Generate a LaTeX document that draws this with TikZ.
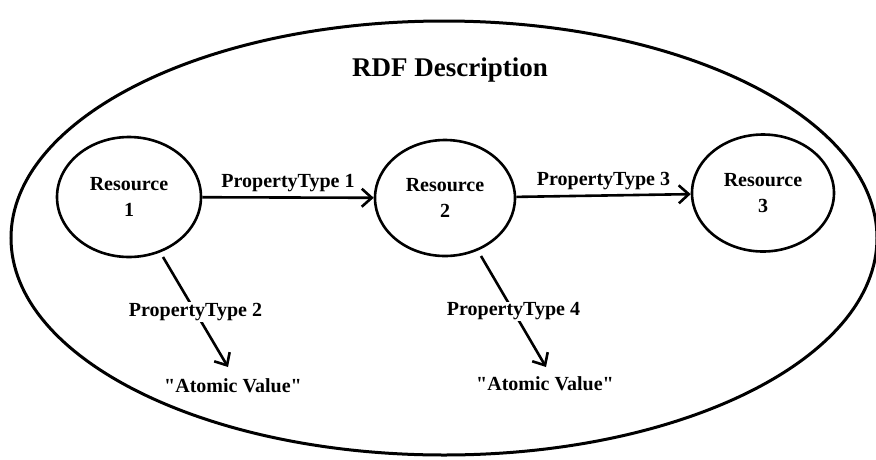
\documentclass[tikz,border=0pt]{standalone}
\usepackage{fontspec}
\setmainfont{Liberation Serif}[Ligatures=TeXOff]
\usetikzlibrary{arrows.meta,shapes.geometric}
\begin{document}
\begin{tikzpicture}[x=1pt,y=-1pt,
  res/.style={draw,line width=2.6pt,ellipse,minimum width=144pt,minimum height=120pt,inner sep=0pt,align=center,font=\bfseries\fontsize{20}{26}\selectfont},
  lab/.style={font=\bfseries\fontsize{20}{22}\selectfont},
  val/.style={font=\bfseries\fontsize{20}{22}\selectfont},
  edge/.style={line width=2.6pt,-{Straight Barb[length=10pt,width=18pt,line width=2.6pt]}}]
\useasboundingbox (0,0) rectangle (876,459);
\node[draw,line width=3pt,ellipse,minimum width=866pt,minimum height=434pt] (outer) at (444,238) {};
\node[font=\bfseries\fontsize{27}{30}\selectfont] (title) at (450,70) {RDF Description};
\node[res] (r1) at (129,197) {Resource\\1};
\node[res,minimum width=140pt,minimum height=116pt] (r2) at (445,198) {Resource\\2};
\node[res,minimum width=142pt,minimum height=117pt] (r3) at (763,193) {Resource\\3};
\node[val] (a1) at (233,386) {"Atomic Value"};
\node[val] (a2) at (545,384) {"Atomic Value"};
\draw[edge] (r1) -- node[lab,above=1pt] {PropertyType 1} (r2);
\draw[edge] (r2) -- node[lab,above=1pt] {PropertyType 3} (r3);
\coordinate (s1) at (163,257);
\coordinate (e1) at (228,367);
\coordinate (s2) at (481,256);
\coordinate (e2) at (546,367);
\draw[edge] (s1) -- node[lab,fill=white,inner sep=1pt,pos=0.5] {PropertyType 2} (e1);
\draw[edge] (s2) -- node[lab,fill=white,inner sep=1pt,pos=0.5] {PropertyType 4} (e2);
\end{tikzpicture}
\end{document}
